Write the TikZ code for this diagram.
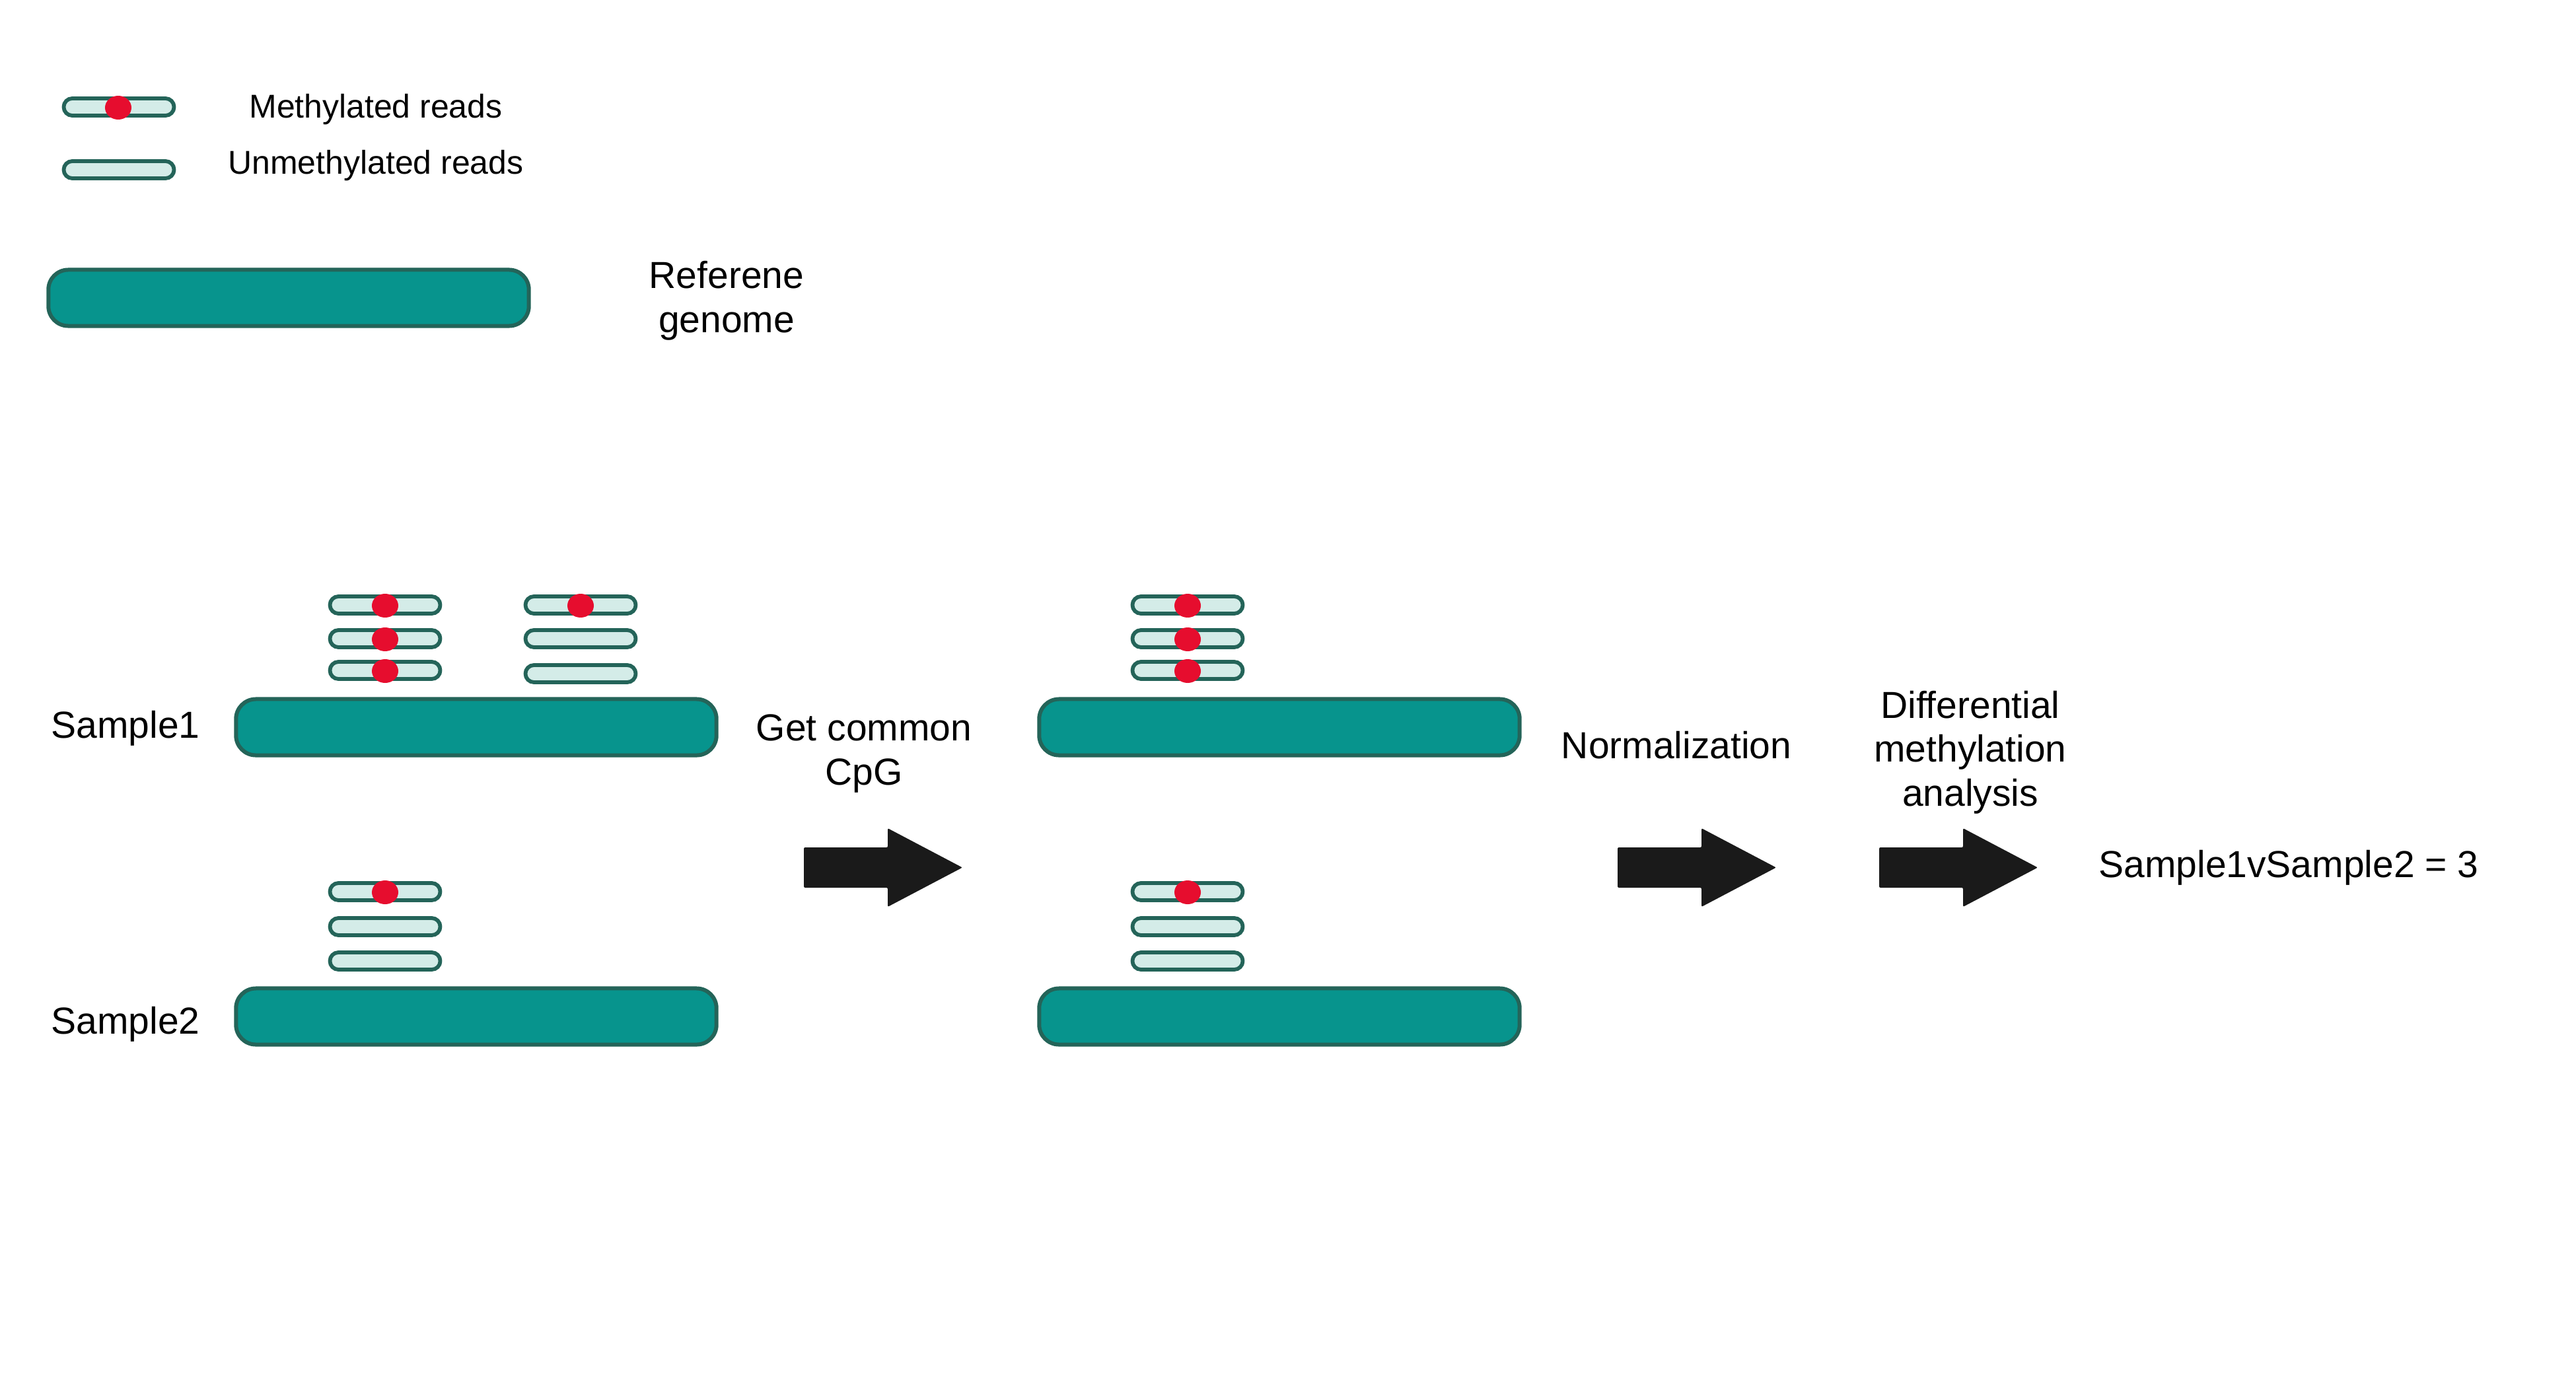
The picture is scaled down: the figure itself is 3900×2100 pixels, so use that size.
\documentclass[tikz,border=0pt]{standalone}
\usepackage{fontspec}
\setmainfont{Liberation Sans}
\usetikzlibrary{shapes.geometric}
\definecolor{teal1}{HTML}{07948D}
\definecolor{edgeg}{HTML}{246459}
\definecolor{readfill}{HTML}{D4ECE8}
\definecolor{meth}{HTML}{E60D2E}
\definecolor{arr}{HTML}{1A1A1A}
\begin{document}
\begin{tikzpicture}[x=0.01cm,y=-0.01cm,
  genome/.style={draw=edgeg, fill=teal1, line width=0.06cm, rounded corners=0.3cm,
    minimum width=7.27cm, minimum height=0.85cm, inner sep=0, outer sep=0},
  readbox/.style={draw=edgeg, fill=readfill, line width=0.058cm, rounded corners=0.13cm,
    minimum width=1.67cm, minimum height=0.26cm, inner sep=0, outer sep=0},
  cpgdot/.style={ellipse, fill=meth, minimum width=0.40cm, minimum height=0.36cm, inner sep=0},
  lbl/.style={font=\fontsize{16.2pt}{18.78pt}\selectfont, align=center, inner sep=0, anchor=base},
  leglbl/.style={font=\fontsize{14.2pt}{17pt}\selectfont, inner sep=0, anchor=base},
  bigarrow/.style={fill=arr, rounded corners=0.02cm}]
\useasboundingbox[fill=white] (0,0) rectangle (3900,2100);

% legend
\node[readbox] (lm) at (180,162) {};
\node[cpgdot] (lmd) at (179,163) {};
\node[readbox] (lu) at (180,257) {};
\node[leglbl] (tm) at (569,179) {Methylated reads};
\node[leglbl] (tu) at (569,264) {Unmethylated reads};
\node[genome] (lg) at (437,451) {};
\node[lbl] (tg) at (1100,503) {Referene\\genome};

% sample labels
\node[lbl, anchor=base west] (s1) at (77,1117) {Sample1};
\node[lbl, anchor=base west] (s2) at (77,1565) {Sample2};

% column 1
\node[genome] (g11) at (721,1101) {};
\node[genome] (g12) at (721,1539) {};
\foreach \y/\n in {916/a,967/b,1015/c}{
  \node[readbox] (r1\n) at (583,\y) {};
  \node[cpgdot] at (583,\y+1) {};
}
\node[readbox] (q1a) at (879,916) {};
\node[cpgdot] at (879,917) {};
\node[readbox] (q1b) at (879,967) {};
\node[readbox] (q1c) at (879,1020) {};
\node[readbox] (p1a) at (583,1350) {};
\node[cpgdot] at (583,1351) {};
\node[readbox] (p1b) at (583,1403) {};
\node[readbox] (p1c) at (583,1455) {};

% column 2
\node[genome] (g21) at (1937,1101) {};
\node[genome] (g22) at (1937,1539) {};
\foreach \y/\n in {916/a,967/b,1015/c}{
  \node[readbox] (r2\n) at (1798,\y) {};
  \node[cpgdot] at (1798,\y+1) {};
}
\node[readbox] (p2a) at (1798,1350) {};
\node[cpgdot] at (1798,1351) {};
\node[readbox] (p2b) at (1798,1403) {};
\node[readbox] (p2c) at (1798,1455) {};

% step labels
\node[lbl] (t1) at (1308,1188) {Get common\\CpG};
\node[lbl] (t2) at (2538,1148) {Normalization};
\node[lbl] (t3) at (2983,1220) {Differential\\methylation\\analysis};
\node[lbl] (res) at (3465,1328) {Sample1vSample2 = 3};

% arrows
\foreach \ax in {1217,2449,2845}{
  \fill[bigarrow] (\ax,1283) -- (\ax+127,1283) -- (\ax+127,1254) -- (\ax+240,1313.5)
    -- (\ax+127,1373) -- (\ax+127,1344) -- (\ax,1344) -- cycle;
}
\end{tikzpicture}
\end{document}
